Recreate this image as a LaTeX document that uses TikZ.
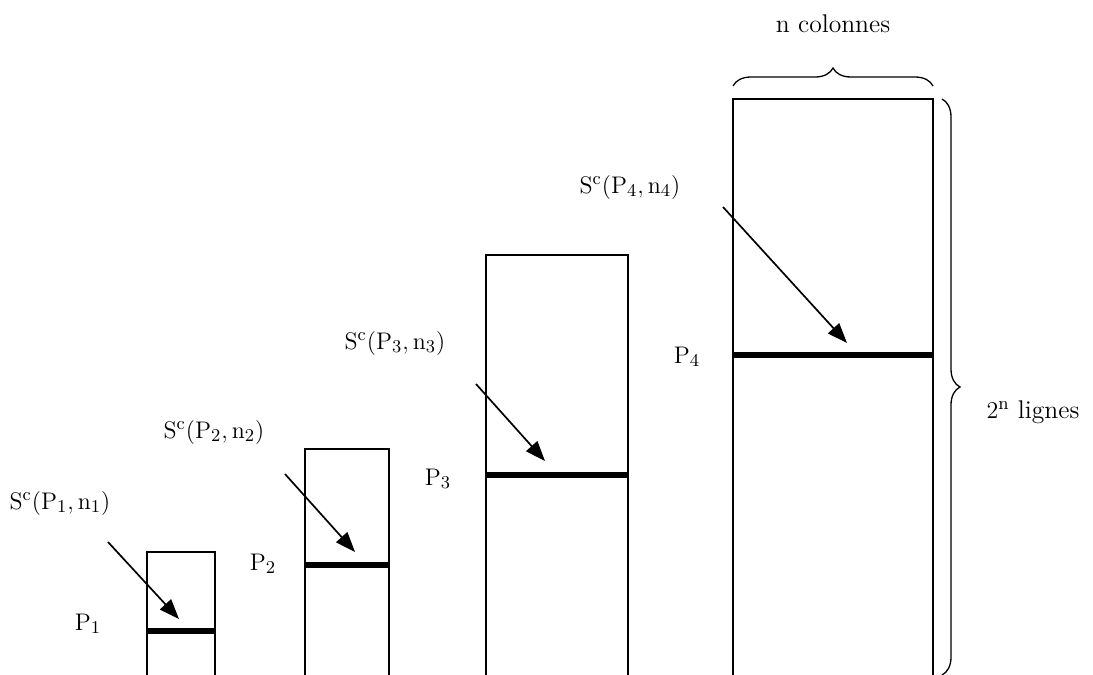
\documentclass[tikz,border=0pt]{standalone}
\usetikzlibrary{arrows.meta,positioning,decorations.pathreplacing}

\begin{document}
\begin{tikzpicture}[x=0.5pt,y=-0.5pt,>={Triangle[length=10pt,width=7.5pt]},
 col/.style={line width=0.65pt},
 bar/.style={line width=3pt},
 ptr/.style={->,line width=0.85pt},
 lab/.style={anchor=base,inner sep=0pt,font=\fontsize{12.8}{15}\selectfont},
 accolade/.style={decorate,decoration={brace,amplitude=9pt},line width=0.65pt}]
 \useasboundingbox (0,0) rectangle (1093,675);
 % les quatre colonnes
 \foreach \i/\xl/\xr/\yt/\yb in {1/147/215/552/631,2/305/389/449/565,3/486/628/255/475,4/733/933/99/355}{
  \draw[col] (\xl,675) -- (\xl,\yt) -- (\xr,\yt) -- (\xr,675);
  \coordinate (g\i) at (\xl,\yb);
  \coordinate (d\i) at (\xr,\yb);
  \draw[bar] (g\i) -- (d\i);
 }
 % etiquettes
 \foreach \i/\sx/\sy/\px/\py in {1/60/509/88/630,2/214/438/263/570,3/395/349/438/485,4/630/193/687/363}{
  \node[lab] (s\i) at (\sx,\sy) {$\mathrm{S^c(P_\i,n_\i)}$};
  \node[lab] (p\i) at (\px,\py) {$\mathrm{P_\i}$};
 }
 % fleches
 \foreach \i/\ax/\ay/\bx/\by in {1/108/542/179/619,2/285/474/355/552,3/476/384/545/461,4/723/207/847/343}{
  \coordinate (a\i) at (\ax,\ay);
  \coordinate (b\i) at (\bx,\by);
  \draw[ptr] (a\i) -- (b\i);
 }
 % accolades
 \coordinate (hg) at (733,86);
 \coordinate (hd) at (933,86);
 \draw[accolade] (hg) -- (hd);
 \node[lab] (ncol) at (833,32) {n colonnes};
 \coordinate (vh) at (942,99);
 \coordinate (vb) at (942,675);
 \draw[accolade] (vh) -- (vb);
 \node[lab] (nlig) at (1033,418) {$\mathrm{2^n}$ lignes};
\end{tikzpicture}
\end{document}
